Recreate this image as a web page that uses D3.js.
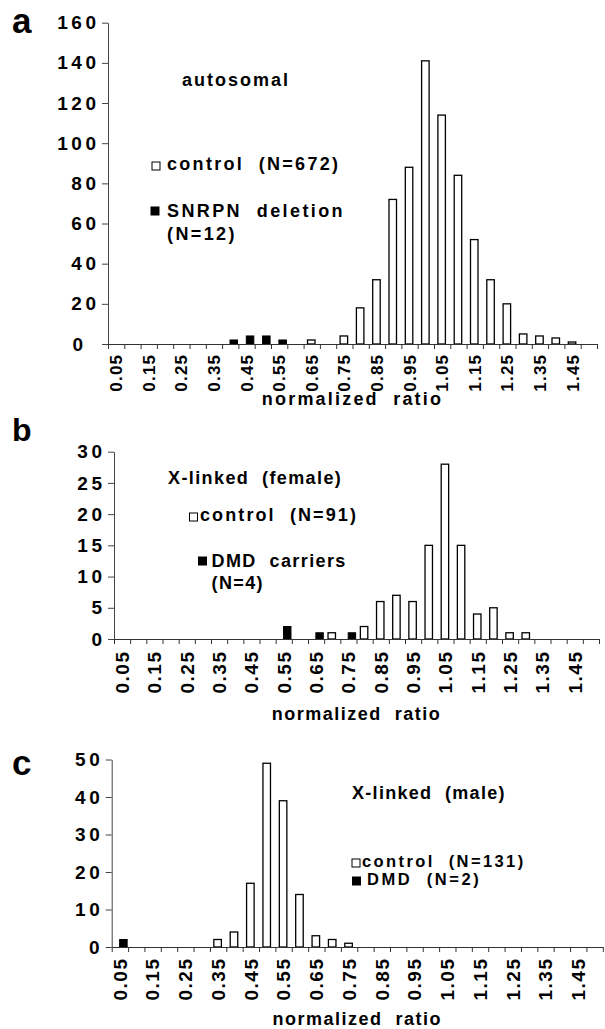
<!DOCTYPE html>
<html><head><meta charset="utf-8">
<script src="https://cdn.jsdelivr.net/npm/d3@7/dist/d3.min.js"></script>
<style>
html,body{margin:0;padding:0;background:#fff;}
svg text{font-family:"Liberation Sans",Arial,Helvetica,sans-serif;font-weight:bold;fill:#000;white-space:pre;}
</style></head>
<body><svg id="chart" width="605" height="1029"></svg>
<script>
// ---- data ----
const categories = ["0.05","0.10","0.15","0.20","0.25","0.30","0.35","0.40","0.45","0.50",
  "0.55","0.60","0.65","0.70","0.75","0.80","0.85","0.90","0.95","1.00",
  "1.05","1.10","1.15","1.20","1.25","1.30","1.35","1.40","1.45","1.50"];
const xTickLabels = ["0.05","0.15","0.25","0.35","0.45","0.55","0.65","0.75","0.85","0.95","1.05","1.15","1.25","1.35","1.45"];

const controlA  = [0,0,0,0,0,0,0,0,0,0,0,0,2,0,4,18,32,72,88,141,114,84,52,32,20,5,4,3,1,0];
const deletionA = [0,0,0,0,0,0,0,2,4,4,2,0,0,0,0,0,0,0,0,0,0,0,0,0,0,0,0,0,0,0];
const yTicksA = [0,20,40,60,80,100,120,140,160];

const controlB  = [0,0,0,0,0,0,0,0,0,0,0,0,0,1,0,2,6,7,6,15,28,15,4,5,1,1,0,0,0,0];
const carriersB = [0,0,0,0,0,0,0,0,0,0,2,0,1,0,1,0,0,0,0,0,0,0,0,0,0,0,0,0,0,0];
const yTicksB = [0,5,10,15,20,25,30];

const controlC = [0,0,0,0,0,0,2,4,17,49,39,14,3,2,1,0,0,0,0,0,0,0,0,0,0,0,0,0,0,0];
const dmdC     = [2,0,0,0,0,0,0,0,0,0,0,0,0,0,0,0,0,0,0,0,0,0,0,0,0,0,0,0,0,0];
const yTicksC = [0,10,20,30,40,50];

const axisTitle = "normalized  ratio";

// ---- layout ----
const panels = [
  {letter:"a", lx:12, ly:33, lfs:35, left:108, right:597, top:22.7, bottom:344, yMax:160, yTicks:yTicksA,
   control:controlA, cases:deletionA, titleLs:2.2, titleY:405, xfs:17, xls:1.2, xoff:11,
   texts:[{t:"autosomal", x:182, y:86, fs:18, ls:2}],
   legend:[{fill:false, x:152, y:162, tx:167, ty:170, t:"control  (N=672)", fs:18, ls:2.3},
           {fill:true, x:151, y:207, tx:167, ty:216.5, t:"SNRPN  deletion", fs:18, ls:2.4},
           {fill:null, tx:167, ty:239.5, t:"(N=12)", fs:18, ls:2.4}], zeroShift:-13},
  {letter:"b", lx:12, ly:441, lfs:32, left:114, right:599, top:451.7, bottom:639, yMax:30, yTicks:yTicksB,
   control:controlB, cases:carriersB, titleLs:1.5, titleY:720, xfs:19, xls:1.5, xoff:13,
   texts:[{t:"X-linked  (female)", x:168, y:483.5, fs:18, ls:1.4}],
   legend:[{fill:false, x:189.5, y:513, tx:200, ty:521, t:"control  (N=91)", fs:18, ls:2.1},
           {fill:true, x:198.5, y:557, tx:211.5, ty:566.5, t:"DMD  carriers", fs:18, ls:1.4},
           {fill:null, tx:211.5, ty:588.5, t:"(N=4)", fs:18, ls:1.4}], zeroShift:0},
  {letter:"c", lx:12, ly:775, lfs:35, left:111.7, right:602.8, top:759.5, bottom:947, yMax:50, yTicks:yTicksC,
   control:controlC, cases:dmdC, titleLs:1.5, titleY:1025, xfs:19, xls:1.5, xoff:12,
   texts:[{t:"X-linked  (male)", x:352, y:798.5, fs:18, ls:1.3}],
   legend:[{fill:false, x:352, y:859, tx:362, ty:866.5, t:"control  (N=131)", fs:16.5, ls:2.4},
           {fill:true, x:352.5, y:877, tx:367, ty:885, t:"DMD  (N=2)", fs:16.5, ls:2.6}], zeroShift:0}
];

const svg = d3.select("#chart");

panels.forEach(p => {
  const g = svg.append("g");
  const x = d3.scaleBand().domain(categories).range([p.left, p.right]).padding(0);
  const xb = d3.scaleLinear().domain([0, categories.length]).range([p.left, p.right]);
  const y = d3.scaleLinear().domain([0, p.yMax]).range([p.bottom, p.top]);
  const sub = d3.scalePoint().domain(["control","case"]).range([-0.5, 3.5]);
  const bw = x.bandwidth() * 0.46;

  // bars
  const rows = categories.map((c, i) => ({c, control:p.control[i], cases:p.cases[i]}));
  g.selectAll("rect.ctl").data(rows.filter(d => d.control > 0)).join("rect")
    .attr("x", d => x(d.c) + x.bandwidth()/2 + sub("control") - bw/2)
    .attr("y", d => y(d.control))
    .attr("width", bw).attr("height", d => y(0) - y(d.control))
    .attr("fill", "#fff").attr("stroke", "#000").attr("stroke-width", 1.3);
  g.selectAll("rect.cas").data(rows.filter(d => d.cases > 0)).join("rect")
    .attr("x", d => x(d.c) + x.bandwidth()/2 + sub("case") - bw/2)
    .attr("y", d => y(d.cases))
    .attr("width", bw).attr("height", d => y(0) - y(d.cases))
    .attr("fill", "#000").attr("stroke", "#000").attr("stroke-width", 1);

  // y axis
  const ya = g.append("g").attr("transform", `translate(${p.left},0)`)
    .call(d3.axisLeft(y).tickValues(p.yTicks).tickSize(6).tickSizeOuter(0).tickPadding(6));
  ya.select(".domain").attr("stroke", "#444");
  ya.selectAll(".tick line").attr("stroke", "#444");
  ya.selectAll(".tick text").attr("font-size", 19).style("letter-spacing", "3.5px")
    .attr("dx", d => (d === 0 ? p.zeroShift : 0) + 3.5);

  // x axis (category boundary ticks)
  const xa = g.append("g").attr("transform", `translate(0,${p.bottom})`)
    .call(d3.axisBottom(xb).tickValues(d3.range(0, categories.length + 1)).tickSize(5).tickSizeOuter(0).tickFormat(""));
  xa.select(".domain").attr("stroke", "#333");
  xa.selectAll(".tick line").attr("stroke", "#333");

  // x labels
  const xl = g.append("g").attr("transform", `translate(0,${p.bottom})`)
    .call(d3.axisBottom(x).tickValues(xTickLabels).tickSize(0).tickPadding(0));
  xl.select(".domain").remove();
  xl.selectAll(".tick text")
    .attr("font-size", p.xfs).style("letter-spacing", p.xls + "px")
    .attr("text-anchor", "end")
    .attr("transform", "rotate(-90)")
    .attr("x", -p.xoff + p.xls).attr("y", 0).attr("dy", "0.36em");

  // axis title
  g.append("text").attr("x", (p.left + p.right)/2).attr("y", p.titleY)
    .attr("text-anchor", "middle").attr("font-size", 18).style("letter-spacing", p.titleLs + "px")
    .text(axisTitle);

  // panel letter
  g.append("text").attr("x", p.lx).attr("y", p.ly).attr("font-size", p.lfs).text(p.letter);

  // subtitle
  p.texts.forEach(t => g.append("text").attr("x", t.x).attr("y", t.y)
    .attr("font-size", t.fs).style("letter-spacing", t.ls + "px").text(t.t));

  // legend
  p.legend.forEach(l => {
    if (l.fill !== null) {
      g.append("rect").attr("x", l.x).attr("y", l.y).attr("width", 8).attr("height", 8)
        .attr("fill", l.fill ? "#000" : "#fff").attr("stroke", "#000").attr("stroke-width", 1);
    }
    g.append("text").attr("x", l.tx).attr("y", l.ty).attr("font-size", l.fs)
      .style("letter-spacing", l.ls + "px").text(l.t);
  });
});
</script></body></html>
